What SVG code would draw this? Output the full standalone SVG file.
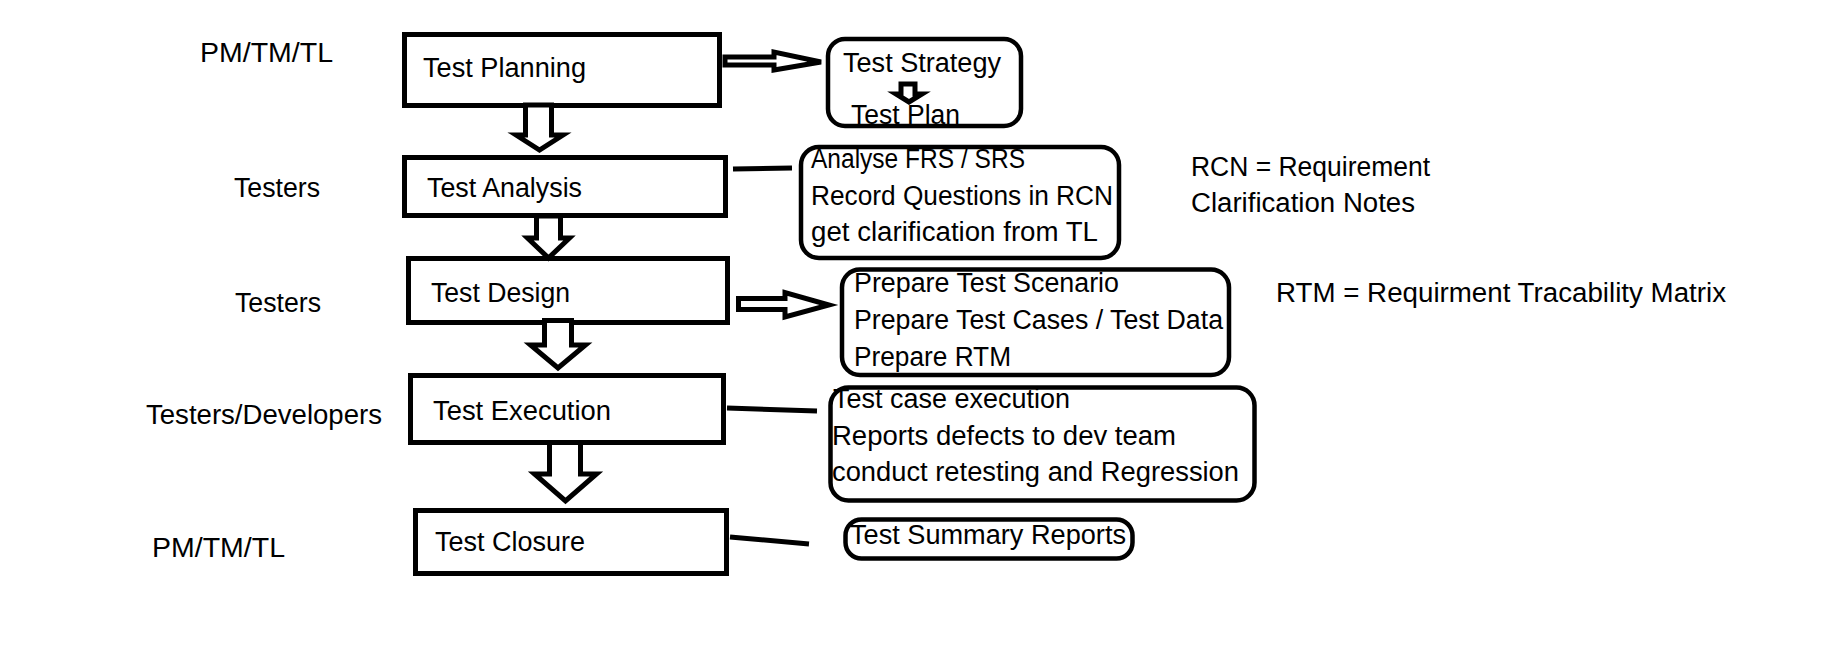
<svg xmlns="http://www.w3.org/2000/svg" width="1828" height="648" viewBox="0 0 1828 648">
<style>
text{font-family:"Liberation Sans",Arial,sans-serif;font-size:27px;fill:#000}
.box{fill:#fff;stroke:#000;stroke-width:5}
.rbox{fill:#fff;stroke:#000;stroke-width:4.5}
.arr{fill:#fff;stroke:#000;stroke-width:5;stroke-linejoin:miter}
.ln{fill:none;stroke:#000;stroke-width:5}
</style>
<rect width="1828" height="648" fill="#fff"/>
<g id="roles">
<text x="200" y="62" textLength="133" lengthAdjust="spacingAndGlyphs">PM/TM/TL</text>
<text x="234" y="197" textLength="86" lengthAdjust="spacingAndGlyphs">Testers</text>
<text x="235" y="312" textLength="86" lengthAdjust="spacingAndGlyphs">Testers</text>
<text x="146" y="424" textLength="236" lengthAdjust="spacingAndGlyphs">Testers/Developers</text>
<text x="152" y="557" textLength="133" lengthAdjust="spacingAndGlyphs">PM/TM/TL</text>
</g>
<g id="test-planning"><rect class="box" x="404.5" y="34.5" width="315" height="71"/><text x="423" y="77" textLength="163" lengthAdjust="spacingAndGlyphs">Test Planning</text></g>
<g id="test-analysis"><rect class="box" x="404.5" y="157.5" width="321" height="58"/><text x="427" y="197" textLength="155" lengthAdjust="spacingAndGlyphs">Test Analysis</text></g>
<g id="test-design"><rect class="box" x="408.5" y="258.5" width="319" height="64"/><text x="431" y="302" textLength="139" lengthAdjust="spacingAndGlyphs">Test Design</text></g>
<g id="test-execution"><rect class="box" x="410.5" y="375.5" width="313" height="67"/><text x="433" y="420" textLength="178" lengthAdjust="spacingAndGlyphs">Test Execution</text></g>
<g id="test-closure"><rect class="box" x="415.5" y="510.5" width="311" height="63"/><text x="435" y="551" textLength="150" lengthAdjust="spacingAndGlyphs">Test Closure</text></g>
<g id="strategy"><rect class="rbox" x="828" y="39" width="193" height="87" rx="17"/><text x="843" y="72" textLength="158" lengthAdjust="spacingAndGlyphs">Test Strategy</text><text x="851" y="124" textLength="109" lengthAdjust="spacingAndGlyphs">Test Plan</text></g>
<g id="analysis-tasks"><rect class="rbox" x="801" y="147" width="318" height="111" rx="18"/><text x="811" y="168" textLength="214" lengthAdjust="spacingAndGlyphs">Analyse FRS / SRS</text><text x="811" y="205" textLength="302" lengthAdjust="spacingAndGlyphs">Record Questions in RCN</text><text x="811" y="241" textLength="287" lengthAdjust="spacingAndGlyphs">get clarification from TL</text></g>
<g id="design-tasks"><rect class="rbox" x="842" y="269.5" width="387" height="105.5" rx="18"/><text x="854" y="292" textLength="265" lengthAdjust="spacingAndGlyphs">Prepare Test Scenario</text><text x="854" y="329" textLength="369" lengthAdjust="spacingAndGlyphs">Prepare Test Cases / Test Data</text><text x="854" y="366" textLength="157" lengthAdjust="spacingAndGlyphs">Prepare RTM</text></g>
<g id="execution-tasks"><rect class="rbox" x="830.5" y="387.5" width="424" height="113" rx="18"/><text x="833" y="408" textLength="237" lengthAdjust="spacingAndGlyphs">Test case execution</text><text x="832" y="445" textLength="344" lengthAdjust="spacingAndGlyphs">Reports defects to dev team</text><text x="832" y="481" textLength="407" lengthAdjust="spacingAndGlyphs">conduct retesting and Regression</text></g>
<g id="closure-tasks"><rect class="rbox" x="845.5" y="519.5" width="287" height="39" rx="16"/><text x="850" y="544" textLength="276" lengthAdjust="spacingAndGlyphs">Test Summary Reports</text></g>
<g id="notes">
<text x="1191" y="176" textLength="239" lengthAdjust="spacingAndGlyphs">RCN = Requirement</text>
<text x="1191" y="212" textLength="224" lengthAdjust="spacingAndGlyphs">Clarification Notes</text>
<text x="1276" y="302" textLength="450" lengthAdjust="spacingAndGlyphs">RTM = Requirment Tracability Matrix</text>
</g>
<g id="connectors">
<polygon class="arr" points="525.5,105 551.5,105 551.5,135 563,135 539.5,150 516,135 525.5,135"/>
<polygon class="arr" points="536.5,216 560.5,216 560.5,238 569.5,238 548.5,258 527.5,238 536.5,238"/>
<polygon class="arr" points="544.5,320.5 571.5,320.5 571.5,345 585.5,345 558,368 530.5,345 544.5,345"/>
<polygon class="arr" points="549.5,442.5 580.5,442.5 580.5,474 596.5,474 565.5,501 534.5,474 549.5,474"/>
<polygon class="arr" stroke-width="4" points="725,57 774,57 774,52 821,62 774,70 774,65 725,65"/>
<polygon class="arr" points="738.5,298.5 785,298.5 785,292.5 829,305 785,317 785,309.5 738.5,309.5"/>
<polygon class="arr" stroke-width="4" points="901,84 915,84 915,94 922,94 909,102 896,94 901,94"/>
<line class="ln" x1="733" y1="169" x2="792" y2="168"/>
<line class="ln" x1="727" y1="408" x2="817" y2="411"/>
<line class="ln" x1="730" y1="537" x2="809" y2="544"/>
</g>
</svg>
